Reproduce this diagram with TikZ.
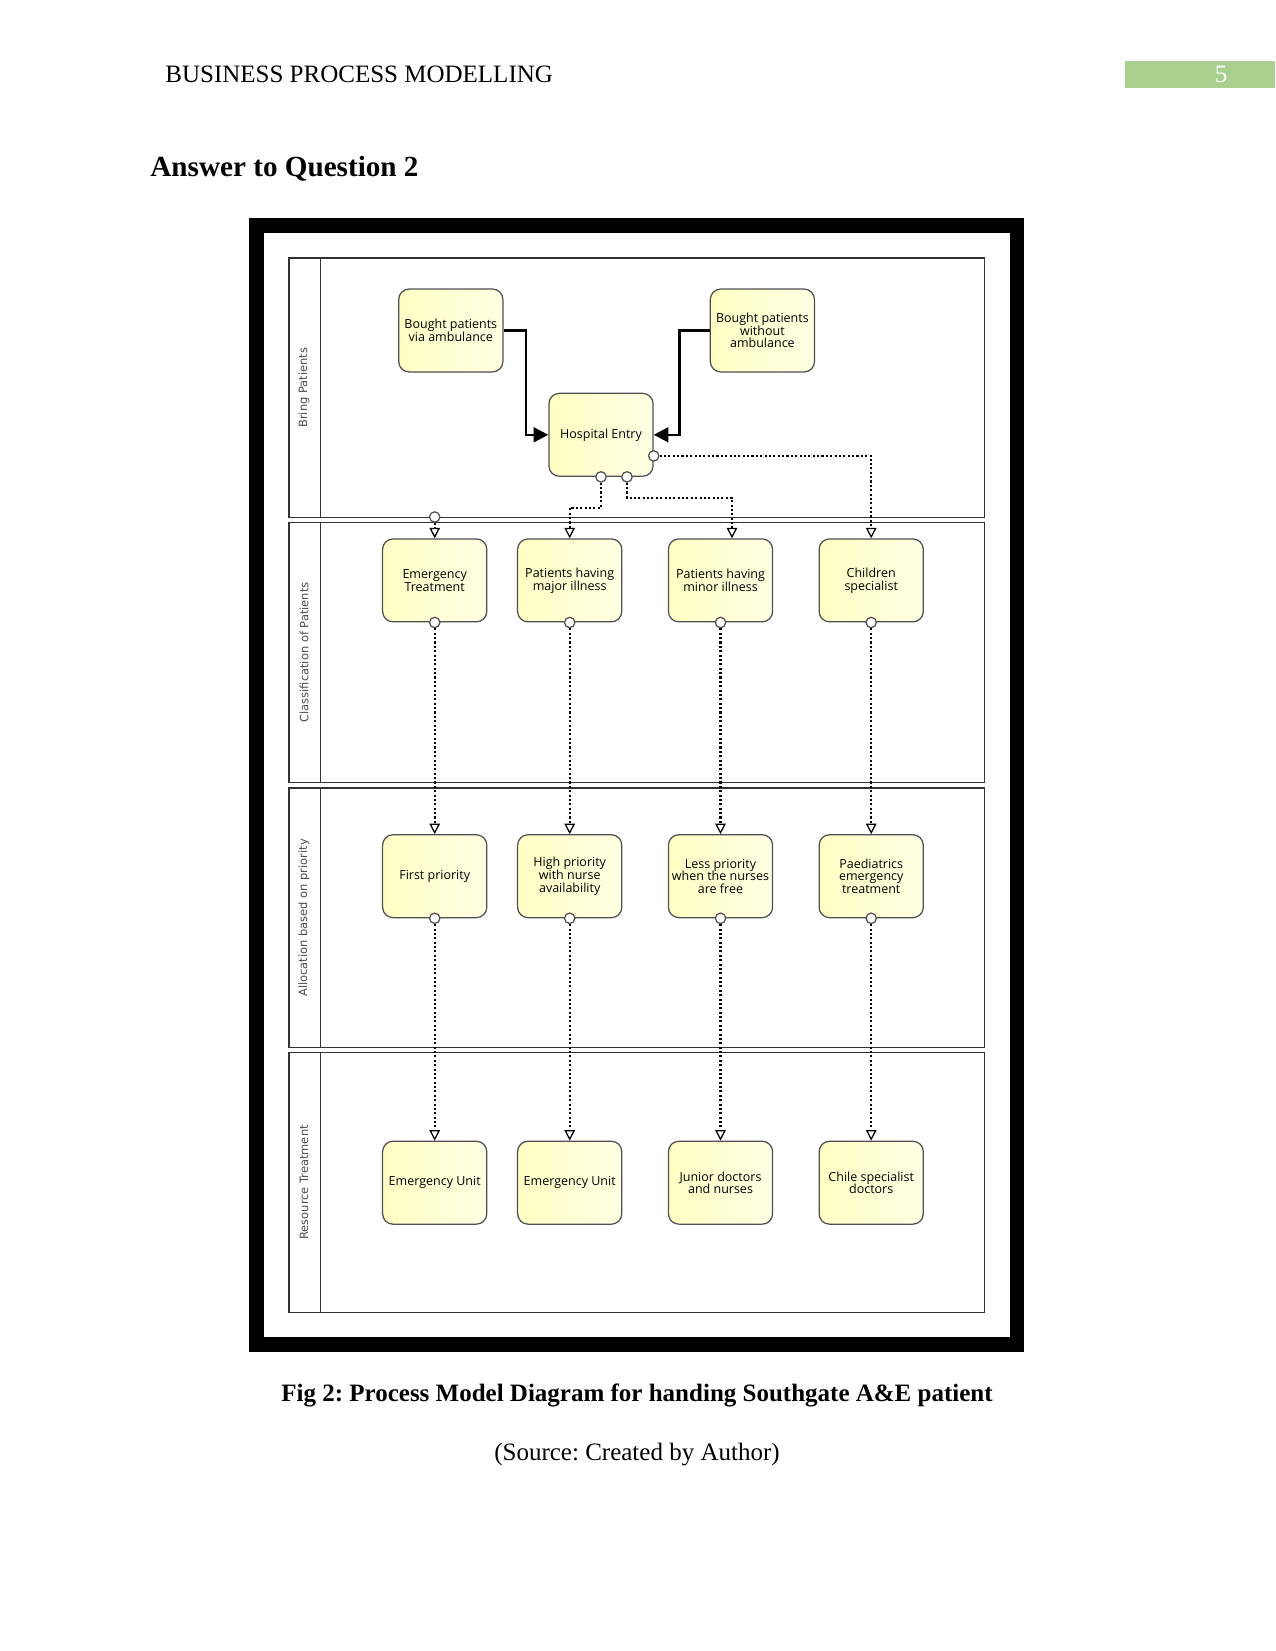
\documentclass[tikz,border=0pt]{standalone}
\usepackage{fontspec}
\setmainfont{Liberation Serif}
\newfontfamily\boxfont{Open Sans}
\newfontfamily\lanefont{DejaVu Sans}
\usepackage{xcolor}
\usetikzlibrary{positioning}
\usetikzlibrary{calc}
\usetikzlibrary{arrows.meta}
\frenchspacing

\definecolor{taskfill}{RGB}{255,255,196}
\definecolor{taskfilltwo}{RGB}{255,255,228}
\definecolor{taskline}{RGB}{80,80,80}
\definecolor{pagegreen}{RGB}{169,208,142}

\tikzset{
	task/.style={draw=taskline, line width=0.6pt, rounded corners=5pt, left color=taskfill, right color=taskfilltwo,
		minimum width=50pt, minimum height=39.8pt, align=center, inner sep=1pt,
		font=\boxfont\fontsize{6}{6.1}\selectfont},
	seqflow/.style={line width=1.2pt, -{Triangle[length=7pt,width=7pt]}},
	msgflow/.style={line width=1pt, dash pattern=on 1pt off 1.1pt, -{Triangle[open,length=5pt,width=5pt,line width=0.6pt]}},
	port/.style={circle, draw=taskline, fill=white, line width=0.6pt, inner sep=0pt, minimum size=5pt},
	lane/.style={draw=black!80, line width=0.6pt},
	lanelabel/.style={rotate=90, font=\lanefont\fontsize{5.5}{6.5}\selectfont, text=black!70}
}

\begin{document}
\begin{tikzpicture}[x=0.48pt, y=-0.48pt]
	\useasboundingbox (0,0) rectangle (1275,1651);
	% page header
	\node[anchor=base west, inner sep=0pt, font=\fontsize{12}{14.4}\selectfont] (header) at (165,83) {BUSINESS PROCESS MODELLING};
	\fill[pagegreen] (1125,61) rectangle (1275,88);
	\node[anchor=base, inner sep=0pt, text=white, font=\fontsize{12}{14.4}\selectfont] (pagenum) at (1221,83) {5};
	\node[anchor=base west, inner sep=0pt, font=\bfseries\fontsize{14}{17}\selectfont] (answer) at (150,177) {Answer to Question 2};
	
	% frame
	\fill[black] (248.5,218) rectangle (1023.5,1351.5);
	\fill[white] (263.5,233) rectangle (1009.5,1336.5);
	
	% lanes
	\foreach \top/\name in {258/Bring Patients, 522.7/Classification of Patients, 788/Allocation based on priority, 1052.7/Resource Treatment} {
		\draw[lane] (289,\top) rectangle (984.5,\top+259.5);
		\draw[lane] (320.6,\top) -- (320.6,\top+259.5);
		\node[lanelabel] at (304,\top+129.75) {\name};
	}
	\coordinate (lanebot) at (0,517);
	
	% tasks
	\node[task] (amb) at (450.8,330.5) {Bought patients\\via ambulance};
	\node[task] (noamb) at (762.4,330.5) {Bought patients\\without\\ambulance};
	\node[task] (entry) at (601,434.8) {Hospital Entry};
	
	\node[task] (emerg) at (434.7,580.4) {Emergency\\Treatment};
	\node[task] (major) at (569.7,580.4) {Patients having\\major illness};
	\node[task] (minor) at (720.5,580.4) {Patients having\\minor illness};
	\node[task] (child) at (871.2,580.4) {Children\\specialist};
	
	\node[task] (first) at (434.7,876.2) {First priority};
	\node[task] (high) at (569.7,876.2) {High priority\\with nurse\\availability};
	\node[task] (less) at (720.5,876.2) {Less priority\\when the nurses\\are free};
	\node[task] (paed) at (871.2,876.2) {Paediatrics\\emergency\\treatment};
	
	\node[task] (unitA) at (434.7,1182.7) {Emergency Unit};
	\node[task] (unitB) at (569.7,1182.7) {Emergency Unit};
	\node[task] (junior) at (720.5,1182.7) {Junior doctors\\and nurses};
	\node[task] (chile) at (871.2,1182.7) {Chile specialist\\doctors};
	
	% flows
	\draw[seqflow] (amb.east) -- ++(22.4,0) |- (entry.west);
	\draw[seqflow] (noamb.west) -- ++(-30,0) |- (entry.east);
	
	\node[port] (pmaj) at (entry.south) {};
	\node[port] (pmin) at ($(entry.south)+(26,0)$) {};
	\node[port] (pchild) at ($(entry.south east)+(0,-21)$) {};
	\node[port] (pemerg) at (emerg.north |- lanebot) {};
	
	\draw[msgflow] (pchild.east) -| (child.north);
	\draw[msgflow] (pmaj.south) -- ++(0,25) -| (major.north);
	\draw[msgflow] (pmin.south) -- ++(0,15) -| ($(minor.north)+(11.5,0)$);
	\draw[msgflow] (pemerg.south) -- (emerg.north);
	
	\foreach \a/\b/\c in {emerg/first/unitA, major/high/unitB, minor/less/junior, child/paed/chile} {
		\node[port] (o\a) at (\a.south) {};
		\node[port] (o\b) at (\b.south) {};
		\draw[msgflow] (o\a) -- (\b.north);
		\draw[msgflow] (o\b) -- (\c.north);
	}
	
	% caption
	\node[anchor=base, inner sep=0pt, font=\bfseries\fontsize{12}{14.4}\selectfont] (caption) at (637,1401.5) {Fig 2: Process Model Diagram for handing Southgate A\&E patient};
	\node[anchor=base, inner sep=0pt, font=\fontsize{12}{14.4}\selectfont] (source) at (637,1460) {(Source: Created by Author)};
\end{tikzpicture}
\end{document}
